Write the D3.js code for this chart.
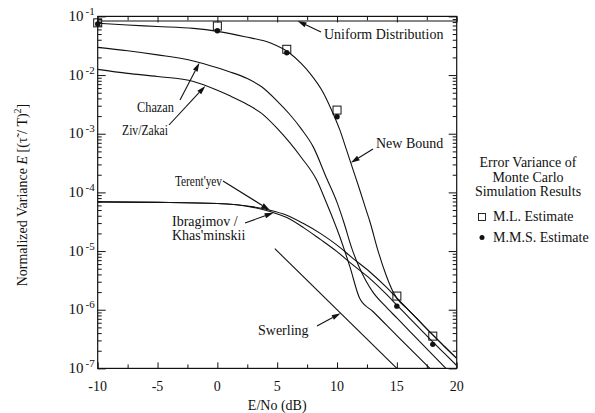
<!DOCTYPE html>
<html>
<head>
<meta charset="utf-8">
<script src="https://cdn.jsdelivr.net/npm/d3@7"></script>
<style>
  body { margin: 0; background: #fff; }
  svg { display: block; font-family: "Liberation Serif", "DejaVu Serif", serif; }
</style>
</head>
<body>
<div id="chart"></div>
<script>
// E/No (dB) and normalized variance
const uniformX = [-10, 20];
const uniformY = [8.33e-2, 8.33e-2];

const newBoundX = [-10, -7.5, -5, -2, 0, 2.3, 4.5, 6, 7, 7.74, 8.85, 9.55, 10.24, 10.8, 11.35, 11.9, 12.4, 12.75, 13.42, 14.08, 14.67, 15, 16, 17, 18, 19, 20];
const newBoundY = [7.62e-2, 7.13e-2, 6.73e-2, 6.24e-2, 5.56e-2, 4.51e-2, 3.48e-2, 2.40e-2, 1.58e-2, 1.07e-2, 5.01e-3, 2.51e-3, 1.15e-3, 5.25e-4, 2.40e-4, 1.10e-4, 5.25e-5, 3.16e-5, 1.02e-5, 3.98e-6, 2.04e-6, 1.58e-6, 9.77e-7, 6.03e-7, 3.72e-7, 2.34e-7, 1.48e-7];

const chazanX = [-10, -7.5, -5, -2, 0, 1, 2.5, 3.7, 5, 6, 7, 8, 9.13, 10, 10.6, 11.2, 11.8, 12.4, 13, 14, 15, 17, 19.1, 20];
const chazanY = [2.97e-2, 2.60e-2, 2.21e-2, 1.74e-2, 1.33e-2, 1.14e-2, 8.71e-3, 6.31e-3, 3.60e-3, 2.19e-3, 1.22e-3, 6.03e-4, 1.74e-4, 6.76e-5, 2.95e-5, 1.17e-5, 5.62e-6, 3.16e-6, 2.00e-6, 1.17e-6, 7.24e-7, 2.75e-7, 1.00e-7, 6.46e-8];

const zivZakaiX = [-10, -7.5, -5, -2, 0, 1, 2.5, 3.7, 5, 6, 7, 8.3, 9, 10.24, 11.08, 11.9, 13, 15, 17.76, 18.5];
const zivZakaiY = [1.25e-2, 1.07e-2, 9.44e-3, 7.76e-3, 5.50e-3, 4.47e-3, 3.16e-3, 2.22e-3, 1.23e-3, 7.24e-4, 3.98e-4, 1.62e-4, 7.59e-5, 1.74e-5, 5.37e-6, 1.55e-6, 9.33e-7, 3.63e-7, 1.00e-7, 7.08e-8];

const terentyevX = [-10, -5, 0, 3, 4.4, 5.8, 7.2, 8.6, 10, 11.35, 12.75, 14.14, 15, 16, 17, 18, 19, 20];
const terentyevY = [6.89e-5, 6.76e-5, 6.46e-5, 5.66e-5, 4.97e-5, 4.08e-5, 2.94e-5, 2.00e-5, 1.26e-5, 7.45e-6, 4.40e-6, 2.40e-6, 1.58e-6, 9.77e-7, 6.03e-7, 3.72e-7, 2.34e-7, 1.48e-7];

const ibragimovX = [-10, -5, 0, 3, 4.4, 5.8, 7.2, 8.6, 10, 11.35, 12.75, 14.14, 15, 16, 17, 18, 19, 20];
const ibragimovY = [6.89e-5, 6.76e-5, 6.46e-5, 5.56e-5, 4.73e-5, 3.72e-5, 2.51e-5, 1.58e-5, 9.77e-6, 5.75e-6, 3.39e-6, 1.82e-6, 1.20e-6, 7.41e-7, 4.57e-7, 2.82e-7, 1.78e-7, 1.12e-7];

const swerlingX = [4.8, 15.0];
const swerlingY = [1.10e-5, 1.00e-7];

// Monte Carlo results
const mlX = [-10, 0, 5.8, 10, 15, 18];
const mlY = [7.76e-2, 6.86e-2, 2.75e-2, 2.53e-3, 1.71e-6, 3.55e-7];
const mmsX = [-10, 0, 5.8, 10, 15, 18];
const mmsY = [7.40e-2, 5.70e-2, 2.40e-2, 1.95e-3, 1.15e-6, 2.57e-7];

const xTicks = [-10, -5, 0, 5, 10, 15, 20];
const xMinorTicks = [-7.5, -2.5, 2.5, 7.5, 12.5, 17.5];
const yExponents = [-7, -6, -5, -4, -3, -2, -1];

const W = 595, H = 413;
const margin = { top: 16.4, right: 138.3, bottom: 44.6, left: 97.7 };
const ink = "#111";

const svg = d3.select("#chart").append("svg")
    .attr("width", W)
    .attr("height", H);

const x = d3.scaleLinear().domain([-10, 20]).range([margin.left, W - margin.right]);
const y = d3.scaleLog().domain([1e-7, 1e-1]).range([H - margin.bottom, margin.top]);

const zip = (xs, ys) => xs.map((v, i) => [v, ys[i]]);
const series = {
    uniform: { pts: zip(uniformX, uniformY), curve: d3.curveLinear },
    newBound: { pts: zip(newBoundX, newBoundY), curve: d3.curveMonotoneX },
    chazan: { pts: zip(chazanX, chazanY), curve: d3.curveMonotoneX },
    zivZakai: { pts: zip(zivZakaiX, zivZakaiY), curve: d3.curveMonotoneX },
    terentyev: { pts: zip(terentyevX, terentyevY), curve: d3.curveMonotoneX },
    ibragimov: { pts: zip(ibragimovX, ibragimovY), curve: d3.curveMonotoneX },
    swerling: { pts: zip(swerlingX, swerlingY), curve: d3.curveLinear }
};

// clip for curves
svg.append("clipPath").attr("id", "plot-clip")
    .append("rect")
    .attr("x", x(-10)).attr("y", y(1e-1))
    .attr("width", x(20) - x(-10)).attr("height", y(1e-7) - y(1e-1));

// tick marks, all pointing inward
const yMinor = [];
yExponents.slice(0, -1).forEach(e => {
    for (let m = 2; m < 10; m++) yMinor.push(m * Math.pow(10, e));
});
const yMajor = yExponents.map(e => Math.pow(10, e));

function tickGroup(axis, values, size, transform) {
    svg.append("g")
        .attr("transform", transform)
        .attr("color", ink)
        .call(axis.tickValues(values).tickSizeInner(-size).tickSizeOuter(0).tickFormat(""))
        .call(g => g.select(".domain").remove())
        .selectAll("line").attr("stroke-width", 1);
}
tickGroup(d3.axisLeft(y), yMajor, 8, `translate(${x(-10)},0)`);
tickGroup(d3.axisLeft(y), yMinor, 4, `translate(${x(-10)},0)`);
tickGroup(d3.axisRight(y), yMajor, 8, `translate(${x(20)},0)`);
tickGroup(d3.axisRight(y), yMinor, 4, `translate(${x(20)},0)`);
tickGroup(d3.axisBottom(x), xTicks, 6, `translate(0,${y(1e-7)})`);
tickGroup(d3.axisBottom(x), xMinorTicks, 4, `translate(0,${y(1e-7)})`);
tickGroup(d3.axisTop(x), xTicks, 6, `translate(0,${y(1e-1)})`);
tickGroup(d3.axisTop(x), xMinorTicks, 4, `translate(0,${y(1e-1)})`);

// frame
svg.append("rect")
    .attr("x", x(-10)).attr("y", y(1e-1))
    .attr("width", x(20) - x(-10)).attr("height", y(1e-7) - y(1e-1))
    .attr("fill", "none").attr("stroke", ink).attr("stroke-width", 1.2);

// y tick labels: 10 with superscript exponent
yExponents.forEach(e => {
    const t = svg.append("text")
        .attr("x", x(-10) - 3)
        .attr("y", y(Math.pow(10, e)) + 4.5)
        .attr("text-anchor", "end")
        .attr("fill", ink)
        .style("font-size", "15px");
    t.append("tspan").text("10");
    t.append("tspan").attr("dx", 2).attr("dy", -6).style("font-size", "11px").text(String(e));
});

// x tick labels
svg.selectAll(".xlab").data(xTicks).enter().append("text")
    .attr("x", d => x(d))
    .attr("y", y(1e-7) + 23)
    .attr("text-anchor", "middle")
    .attr("fill", ink)
    .style("font-size", "14px")
    .text(d => d);

// axis titles
svg.append("text")
    .attr("x", x(5))
    .attr("y", 410)
    .attr("text-anchor", "middle")
    .attr("fill", ink)
    .style("font-size", "14px")
    .text("E/No (dB)");

const ylab = svg.append("text")
    .attr("transform", `translate(27,195) rotate(-90)`)
    .attr("text-anchor", "middle")
    .attr("fill", ink)
    .style("font-size", "14px");
ylab.append("tspan").text("Normalized Variance ");
ylab.append("tspan").style("font-style", "italic").text("E");
ylab.append("tspan").text(" [(\u03C4\u0303 / T)");
ylab.append("tspan").attr("dy", -6).style("font-size", "10px").text("2");
ylab.append("tspan").attr("dy", 6).text("]");

// curves
const line = d3.line().x(d => x(d[0])).y(d => y(d[1]));
const curveG = svg.append("g").attr("clip-path", "url(#plot-clip)");
Object.values(series).forEach(s => {
    curveG.append("path")
        .attr("d", line.curve(s.curve)(s.pts))
        .attr("fill", "none")
        .attr("stroke", ink)
        .attr("stroke-width", 1.1);
});

// simulation markers
svg.selectAll(".mms").data(zip(mmsX, mmsY)).enter().append("circle")
    .attr("cx", d => x(d[0])).attr("cy", d => y(d[1]))
    .attr("r", 2.7).attr("fill", ink);
svg.selectAll(".ml").data(zip(mlX, mlY)).enter().append("rect")
    .attr("x", d => x(d[0]) - 4).attr("y", d => y(d[1]) - 4)
    .attr("width", 8).attr("height", 8)
    .attr("fill", "none").attr("stroke", ink).attr("stroke-width", 1);

// value of a series at dB value xv (log-linear interpolation)
function valueAt(pts, xv) {
    for (let i = 1; i < pts.length; i++) {
        if (xv <= pts[i][0]) {
            const [x0, y0] = pts[i - 1], [x1, y1] = pts[i];
            const t = (xv - x0) / (x1 - x0);
            return Math.pow(10, Math.log10(y0) + t * (Math.log10(y1) - Math.log10(y0)));
        }
    }
    return pts[pts.length - 1][1];
}

// curve labels with arrows (fit = printed text width, slightly condensed)
const notes = [
    { lines: ["Uniform Distribution"], tx: 324, ty: 39, tail: [321, 32], key: "uniform", at: 6.7 },
    { lines: ["Chazan"], tx: 137, ty: 111.5, tail: [180, 100], key: "chazan", at: -1.5, fit: 37 },
    { lines: ["Ziv/Zakai"], tx: 122, ty: 135, tail: [169, 125], key: "zivZakai", at: -1.0, fit: 46 },
    { lines: ["New Bound"], tx: 376, ty: 148, tail: [373, 149], key: "newBound", at: 11.15 },
    { lines: ["Terent'yev"], tx: 175, ty: 185.5, tail: [223, 181], key: "terentyev", at: 4.4, fit: 47 },
    { lines: ["Ibragimov /", "Khas'minskii"], tx: 172, ty: 226, tail: [245, 223], key: "ibragimov", at: 4.7 },
    { lines: ["Swerling"], tx: 258, ty: 334.5, tail: [317, 326], key: "swerling", at: 10.3 }
];

notes.forEach(n => {
    const t = svg.append("text")
        .attr("x", n.tx).attr("y", n.ty)
        .attr("fill", ink)
        .style("font-size", "14px");
    if (n.fit) t.attr("textLength", n.fit).attr("lengthAdjust", "spacingAndGlyphs");
    n.lines.forEach((s, i) => {
        t.append("tspan").attr("x", n.tx).attr("dy", i ? 13.5 : 0).text(s);
    });

    const tip = [x(n.at), y(valueAt(series[n.key].pts, n.at))];
    const ang = Math.atan2(tip[1] - n.tail[1], tip[0] - n.tail[0]);
    const len = 9, half = 2.6;
    const bx = tip[0] - len * Math.cos(ang), by = tip[1] - len * Math.sin(ang);
    svg.append("line")
        .attr("x1", n.tail[0]).attr("y1", n.tail[1])
        .attr("x2", bx).attr("y2", by)
        .attr("stroke", ink).attr("stroke-width", 1.1);
    svg.append("path")
        .attr("d", `M${tip[0]},${tip[1]}L${bx - half * Math.sin(ang)},${by + half * Math.cos(ang)}L${bx + half * Math.sin(ang)},${by - half * Math.cos(ang)}Z`)
        .attr("fill", ink);
});

// legend
const legendTitle = ["Error Variance of", "Monte Carlo", "Simulation Results"];
svg.selectAll(".ltitle").data(legendTitle).enter().append("text")
    .attr("x", 528)
    .attr("y", (d, i) => 167 + i * 14.7)
    .attr("text-anchor", "middle")
    .attr("fill", ink)
    .style("font-size", "14px")
    .text(d => d);

svg.append("rect")
    .attr("x", 478.5).attr("y", 213.5).attr("width", 7).attr("height", 7)
    .attr("fill", "none").attr("stroke", ink).attr("stroke-width", 0.9);
svg.append("text").attr("x", 493).attr("y", 221)
    .attr("fill", ink).style("font-size", "14px").text("M.L. Estimate");
svg.append("circle").attr("cx", 482).attr("cy", 237.5).attr("r", 2.5).attr("fill", ink);
svg.append("text").attr("x", 493).attr("y", 242)
    .attr("fill", ink).style("font-size", "14px").text("M.M.S. Estimate");
</script>
</body>
</html>
